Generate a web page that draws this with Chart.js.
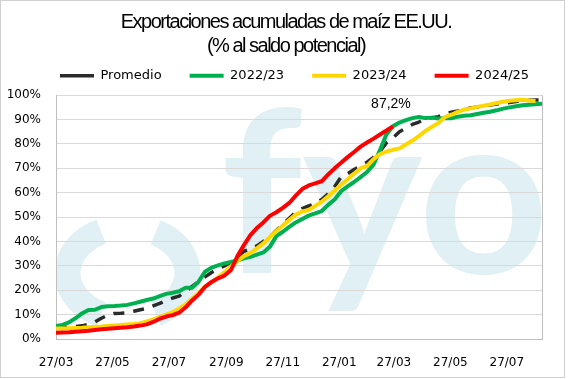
<!DOCTYPE html>
<html><head><meta charset="utf-8">
<script src="https://cdn.jsdelivr.net/npm/chart.js@4.4.0/dist/chart.umd.min.js"></script>
<style>html,body{margin:0;padding:0;background:#fff}#wrap{width:568px;height:379px;position:relative}</style>
</head><body><div id="wrap"><canvas id="c"></canvas></div>
<script>
const titleLines = ['Exportaciones acumuladas de maíz EE.UU.', '(% al saldo potencial)'];
const seriesNames = ['Promedio', '2022/23', '2023/24', '2024/25'];
const xTickDays = [0, 61, 122, 184, 245, 306, 365, 426, 487];
const xTickLabels = ['27/03', '27/05', '27/07', '27/09', '27/11', '27/01', '27/03', '27/05', '27/07'];
const daysPerPoint = 7;
const xMaxDay = 525;

const promedio = [4.5,4.7,4.9,5.1,5.4,6,7,8.5,9.8,10.5,10.6,10.8,11.4,12,12.5,13.6,14.6,15.8,16.8,17.6,19.5,21.6,23.5,25.5,27.3,28.8,30,31.5,33.5,36,36.8,38.2,40,41.8,44.5,47,49.5,52,53.5,54.6,55.5,57.2,59.5,62.5,66.5,67.8,69.5,71,72.5,74.5,77,80.5,82.5,85,86.5,88,89,90.2,90.8,91.2,92.2,93,93.5,94.2,94.8,95.2,95.6,96,96.4,96.7,97,97.4,97.7,97.9,98,98];
const s2022 = [5.3,5.8,6.8,8.5,10.5,11.9,12,13.1,13.4,13.5,13.7,14,14.6,15.3,16,16.6,17.6,18.5,19,19.6,21,21,23.5,27.6,29.3,30.2,31,31.6,32.2,33.1,33.7,34.6,35.5,37.8,42.2,44,46,47.8,49.2,50.6,51.5,52.5,55,57.2,60.6,62.6,64.4,66.4,68.5,71.5,77.5,84,87.3,88.8,89.8,90.6,91.1,90.6,90.8,90.4,90.5,90.5,91.2,91.6,91.8,92.3,92.8,93.2,93.8,94.5,95,95.5,95.9,96.1,96.3,96.5];
const s2023 = [4.3,4.3,4.4,4.5,4.6,4.8,5,5.1,5.3,5.5,5.7,6,6.2,6.5,7.2,8,9,10,11,12.5,14.2,16.5,18.8,21.5,23.2,25.2,27.5,29.6,32,34,35.2,37.2,39.2,41.8,44.2,46.6,48.8,51,52.3,52.9,54.6,56.3,58.5,60.8,63.3,65.5,67.8,70,71,73.8,75.8,76.9,77.6,78.2,79.8,81.4,83.2,85.3,87,88.6,91,92,93.2,94.1,94.6,95.2,95.7,96.2,96.8,97.3,97.7,97.9,98.1,97.8,97.6];
const s2024 = [2.6,2.7,2.8,3,3.2,3.4,3.7,4,4.2,4.4,4.6,4.8,5.1,5.5,6,7,8.3,9.2,9.8,10.8,13,15.8,18.2,21.4,23.4,24.9,26,28.3,34,38.5,42.6,45.5,47.8,50.5,52,53.8,55.8,58.8,61.5,63,63.8,64.7,67.5,70,72.3,74.6,76.7,78.9,80.6,82.2,83.9,85.5,87.2];

const toXY = arr => arr.map((v, i) => ({x: i * daysPerPoint, y: v}));

const LEGEND_START_X = 60;
const TITLE_CENTER_X = 286;

const layoutTweaks = {
  id: 'layoutTweaks',
  beforeLayout(chart) {
    const lg = chart.legend;
    if (lg && !lg._patched) {
      const upd = lg.update;
      lg.update = function (mw, mh, m) { upd.call(this, mw + 80, mh, m); this.height += 3; };
      lg._patched = true;
    }
    const t = chart.titleBlock;
    if (t && !t._patched) {
      const drw = t.draw;
      t.draw = function (...args) {
        const ctx = this.ctx;
        ctx.save();
        ctx.letterSpacing = '-1.5px';
        drw.apply(this, args);
        ctx.restore();
      };
      t._patched = true;
    }
  },
  afterLayout(chart) {
    const lg = chart.legend;
    const p = lg.options.labels.padding;
    const start = (lg.left + p + lg.right - lg.lineWidths[0]) / 2;
    const d = LEGEND_START_X - start;
    lg.left += d; lg.right += d;
    const t = chart.titleBlock;
    const dc = TITLE_CENTER_X - (t.left + t.right) / 2;
    t.left += dc; t.right += dc;
  }
};

const watermark = {
  id: 'watermark',
  beforeDraw(chart) {
    const {ctx, chartArea: a} = chart;
    ctx.save();
    ctx.beginPath(); ctx.rect(a.left, a.top, a.right - a.left, a.bottom - a.top); ctx.clip();
    ctx.fillStyle = '#e0f0f4'; ctx.strokeStyle = '#e0f0f4';
    ctx.lineWidth = 26;
    ctx.beginPath(); ctx.ellipse(127.5, 273, 60, 46, 0, Math.PI * 116 / 180, Math.PI * 244 / 180); ctx.stroke();
    ctx.beginPath(); ctx.ellipse(127.5, 273, 60, 46, 0, -Math.PI * 62 / 180, Math.PI * 62 / 180); ctx.stroke();
    ctx.font = 'bold 227px Lato';
    ctx.textBaseline = 'alphabetic'; ctx.textAlign = 'left';
    ctx.fillText('fyo', 221, 273);
    ctx.restore();
  }
};

const frame = {
  id: 'frame',
  beforeDatasetsDraw(chart) {
    const {ctx, chartArea: a} = chart;
    ctx.save();
    ctx.strokeStyle = '#bfbfbf'; ctx.lineWidth = 1;
    ctx.beginPath(); ctx.moveTo(Math.round(a.right) + 0.5, a.top); ctx.lineTo(Math.round(a.right) + 0.5, a.bottom); ctx.stroke();
    ctx.restore();
  },
  afterDraw(chart) {
    const ctx = chart.ctx;
    ctx.save();
    ctx.strokeStyle = '#d0d0d0'; ctx.lineWidth = 1;
    ctx.strokeRect(0.5, 0.5, 564, 377);
    ctx.restore();
  }
};

const lastLabel = {
  id: 'lastLabel',
  afterDatasetsDraw(chart) {
    const meta = chart.getDatasetMeta(3);
    const pt = meta.data[meta.data.length - 1];
    const v = s2024[s2024.length - 1];
    const ctx = chart.ctx;
    ctx.save();
    ctx.font = '14px "Liberation Sans", Arial, sans-serif';
    ctx.fillStyle = '#000'; ctx.textAlign = 'center'; ctx.textBaseline = 'middle';
    ctx.fillText(v.toFixed(1).replace('.', ',') + '%', pt.x - 2, pt.y - 22);
    ctx.restore();
  }
};

new Chart(document.getElementById('c'), {
  type: 'line',
  data: {
    datasets: [
      {label: seriesNames[0], data: toXY(promedio), borderColor: '#2b2b2b', backgroundColor: '#2b2b2b', borderWidth: 3.5, borderDash: [11, 9], order: 4},
      {label: seriesNames[1], data: toXY(s2022), borderColor: '#00b050', backgroundColor: '#00b050', borderWidth: 4, order: 3},
      {label: seriesNames[2], data: toXY(s2023), borderColor: '#ffd700', backgroundColor: '#ffd700', borderWidth: 4, order: 2},
      {label: seriesNames[3], data: toXY(s2024), borderColor: '#ff0000', backgroundColor: '#ff0000', borderWidth: 4, order: 1}
    ]
  },
  options: {
    responsive: true, maintainAspectRatio: false, animation: false, devicePixelRatio: 1,
    elements: {point: {radius: 0}, line: {tension: 0, borderJoinStyle: 'round'}},
    layout: {padding: {top: 0, left: 0, right: 26, bottom: 0}},
    plugins: {
      title: {display: true, text: titleLines, color: '#000',
        font: {family: '"Liberation Sans", Arial, sans-serif', size: 20, weight: 'normal', lineHeight: 1.175},
        padding: {top: 11, bottom: -16.8}},
      legend: {display: true, position: 'top',
        labels: {usePointStyle: true, pointStyle: 'line', pointStyleWidth: 34, color: '#000',
          font: {family: '"DejaVu Sans", Verdana, sans-serif', size: 13}, padding: 28,
          sort: (a, b) => a.datasetIndex - b.datasetIndex}},
      tooltip: {enabled: false}
    },
    scales: {
      x: {type: 'linear', min: 0, max: xMaxDay,
        grid: {display: false}, border: {color: '#bfbfbf'},
        afterBuildTicks: s => { s.ticks = xTickDays.map(v => ({value: v})); },
        afterFit: s => { s.height = 40; },
        ticks: {autoSkip: false, maxRotation: 0, padding: 9, color: '#000',
          font: {family: '"DejaVu Sans", Verdana, sans-serif', size: 12},
          callback: (v, i) => xTickLabels[i]}},
      y: {min: 0, max: 100,
        grid: {color: '#d9d9d9', drawTicks: false}, border: {color: '#bfbfbf'},
        afterFit: s => { s.width = 56; },
        ticks: {stepSize: 10, padding: 15, color: '#000',
          font: {family: '"DejaVu Sans", Verdana, sans-serif', size: 12},
          callback: v => v + '%'}}
    }
  },
  plugins: [layoutTweaks, watermark, frame, lastLabel]
});
</script>
</body></html>
